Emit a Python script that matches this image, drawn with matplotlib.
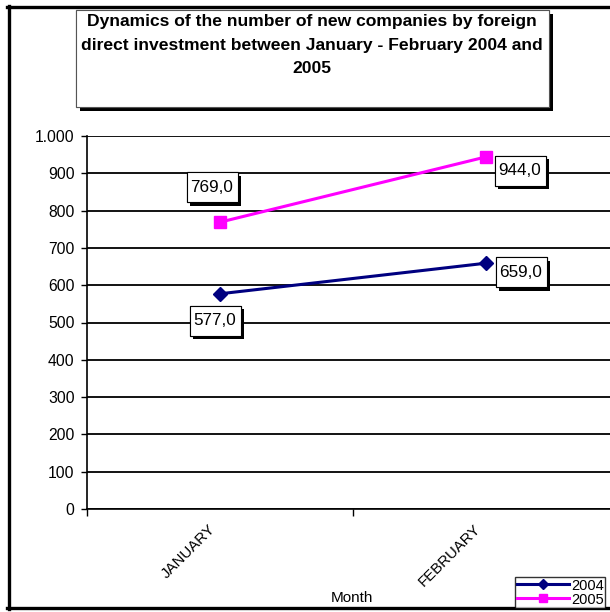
import matplotlib.pyplot as plt
import matplotlib.patheffects as pe
import matplotlib.transforms as mtransforms
from matplotlib.patches import Rectangle
from matplotlib.lines import Line2D

plt.rcParams['font.family'] = ['Liberation Sans', 'DejaVu Sans']

months = ['JANUARY', 'FEBRUARY']
values_2004 = [577.0, 659.0]
values_2005 = [769.0, 944.0]
y_ticks = [0, 100, 200, 300, 400, 500, 600, 700, 800, 900, 1000]
title = ("Dynamics of the number of new companies by foreign\n"
         "direct investment between January - February 2004 and\n2005")

W, H = 610, 612
fig = plt.figure(figsize=(W / 100, H / 100), dpi=100)

def fx(px):
    return px / W

def fy(py):
    return 1 - py / H

shadow = [pe.withSimplePatchShadow(offset=(2.5, -2.5), shadow_rgbFace='black', alpha=1),
          pe.Normal()]

# outer chart frame
fig.add_artist(Line2D([fx(8.5), fx(8.5)], [fy(6), fy(609)], color='black', lw=2.4))
fig.add_artist(Line2D([fx(7), fx(615)], [fy(7), fy(7)], color='black', lw=2.4))
fig.add_artist(Line2D([fx(7), fx(615)], [fy(608), fy(608)], color='black', lw=2.4))

# title box with shadow
tb = Rectangle((fx(76), fy(107)), fx(549) - fx(76), fy(10) - fy(107),
               transform=fig.transFigure, facecolor='white', edgecolor='#555555',
               lw=0.8, zorder=5)
tb.set_path_effects([pe.withSimplePatchShadow(offset=(3, -3), shadow_rgbFace='black', alpha=1),
                     pe.Normal()])
fig.add_artist(tb)
fig.text(fx(312), fy(14), title, ha='center', va='top', fontsize=12.6,
         fontweight='bold', linespacing=1.72, zorder=6)

ax = fig.add_axes([fx(87), fy(509), fx(619) - fx(87), fy(136) - fy(509)])
x = list(range(len(months)))
ax.plot(x, values_2004, color='#000080', lw=2.2, marker='D', markersize=7,
        label='2004', zorder=3, clip_on=False)
ax.plot(x, values_2005, color='#FF00FF', lw=2.2, marker='s', markersize=8,
        label='2005', zorder=3, clip_on=False)

ax.set_xlim(-0.5, 1.5)
ax.set_ylim(0, 1000)
ax.set_yticks(y_ticks)
ax.set_yticklabels([f"{v:,}".replace(',', '.') for v in y_ticks], fontsize=11.3)
ax.yaxis.grid(True, color='black', lw=1.3)
ax.set_axisbelow(True)
ax.tick_params(axis='y', length=4, width=1, direction='out', pad=5)

ax.set_xticks(x)
ax.set_xticklabels(months, rotation=45, ha='right', rotation_mode='anchor', fontsize=10.8)
ax.tick_params(axis='x', which='major', length=0, pad=12)
shift = mtransforms.ScaledTranslation(-0.12, 0.04, fig.dpi_scale_trans)
for lab in ax.get_xticklabels():
    lab.set_transform(lab.get_transform() + shift)
ax.set_xticks([-0.5, 0.5, 1.5], minor=True)
ax.tick_params(axis='x', which='minor', length=5, width=1, direction='out')

for s in ['top', 'right']:
    ax.spines[s].set_visible(False)
ax.spines['left'].set_linewidth(1.2)
ax.spines['bottom'].set_linewidth(1.2)

fig.text(fx(352), fy(598), 'Month', ha='center', va='center', fontsize=11)

# data labels: offsets of the box centre from the point, in inches
box_w, box_h = 0.51, 0.30
labels = [(0, values_2004[0], (-0.05, -0.27)), (1, values_2004[1], (0.35, -0.09)),
          (0, values_2005[0], (-0.08, 0.35)), (1, values_2005[1], (0.34, -0.14))]
for xi, v, (dx, dy) in labels:
    tr = fig.dpi_scale_trans + mtransforms.ScaledTranslation(xi, v, ax.transData)
    box = Rectangle((dx - box_w / 2, dy - box_h / 2), box_w, box_h, transform=tr,
                    facecolor='white', edgecolor='black', lw=0.8, zorder=5, clip_on=False)
    box.set_path_effects(shadow)
    ax.add_artist(box)
    ax.text(dx, dy, f"{v:.1f}".replace('.', ','), transform=tr, ha='center', va='center',
            fontsize=12.3, zorder=6)

leg = fig.legend(loc='lower right', bbox_to_anchor=(fx(605), fy(608)), fontsize=10.5,
                 frameon=True, fancybox=False, shadow=False, borderpad=0.1,
                 labelspacing=0.0, handlelength=3.6, handletextpad=0.1,
                 borderaxespad=0, markerscale=0.75)
leg.get_frame().set_edgecolor('black')
leg.get_frame().set_linewidth(1.0)

fig.savefig('out.png', dpi=100)
